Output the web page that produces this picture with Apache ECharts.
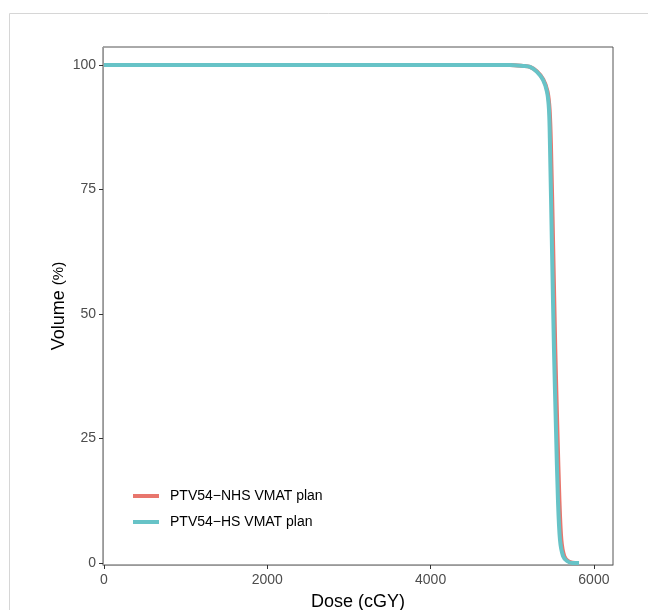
<!DOCTYPE html>
<html>
<head>
<meta charset="utf-8">
<script src="https://cdn.jsdelivr.net/npm/echarts@6/dist/echarts.min.js"></script>
<style>
  html, body { margin: 0; padding: 0; background: #fff; }
  #chart { width: 648px; height: 610px; }
</style>
</head>
<body>
<div id="chart"></div>
<script>
// DVH curves (dose cGy, volume %)
const nhsDose = [0, 4972, 5132, 5217, 5303, 5380, 5432, 5458, 5474, 5502, 5527, 5553, 5578, 5602, 5637, 5684, 5740, 5815];
const nhsVol = [100, 100, 99.8, 99.6, 98.7, 97.1, 94.7, 91, 84, 63, 43, 26.7, 12.6, 4.6, 1.4, 0.4, 0.05, 0];
const hsDose = [0, 4972, 5132, 5217, 5303, 5377, 5426, 5450, 5462, 5487, 5511, 5536, 5560, 5585, 5622, 5671, 5732, 5818];
const hsVol = [100, 100, 99.8, 99.6, 98.6, 97, 94.6, 91, 84, 63, 43, 26.7, 12.6, 4.6, 1.4, 0.4, 0, 0];
const xTicks = [0, 2000, 4000, 6000];
const yTicks = [0, 25, 50, 75, 100];

const pairs = (xs, ys) => xs.map((x, i) => [x, ys[i]]);
const font = 'Liberation Sans, Arial, sans-serif';

const option = {
  animation: false,
  graphic: [{
    type: 'polyline',
    shape: { points: [[9.5, 610], [9.5, 13.5], [648, 13.5]] },
    style: { stroke: '#d6d6d6', lineWidth: 1, fill: null }
  }],
  grid: {
    left: 103, right: 35, top: 47, bottom: 45, outerBoundsMode: 'none', containLabel: false,
    show: true, borderColor: '#555', borderWidth: 1, backgroundColor: '#fff'
  },
  legend: {
    left: 128, top: 484, orient: 'vertical', itemGap: 12,
    itemWidth: 26, itemHeight: 4, icon: 'rect',
    textStyle: { fontSize: 14, color: '#000', fontFamily: font, padding: [0, 0, 0, 6] },
    data: ['PTV54\u2212NHS VMAT plan', 'PTV54\u2212HS VMAT plan']
  },
  xAxis: {
    type: 'value', min: -12, max: 6234,
    name: 'Dose (cGY)', nameLocation: 'middle', nameGap: 28,
    nameTextStyle: { fontSize: 18, color: '#000', fontFamily: font },
    axisLine: { show: true, onZero: false, lineStyle: { color: '#999', width: 1 } },
    axisTick: { show: true, length: 4, customValues: xTicks, lineStyle: { color: '#333' } },
    axisLabel: { customValues: xTicks, fontSize: 14, color: '#4d4d4d', margin: 8, fontFamily: font, formatter: v => String(v) },
    splitLine: { show: false }
  },
  yAxis: {
    type: 'value', min: -0.4, max: 103.6,
    name: '{a|Volume }{b|(%)}', nameLocation: 'middle', nameGap: 35, nameMoveOverlap: false,
    nameTextStyle: {
      fontFamily: font, color: '#000',
      rich: { a: { fontSize: 18, color: '#000', fontFamily: font }, b: { fontSize: 15, color: '#000', fontFamily: font } }
    },
    axisLine: { show: true, onZero: false, lineStyle: { color: '#999', width: 1 } },
    axisTick: { show: true, length: 4, customValues: yTicks, lineStyle: { color: '#333' } },
    axisLabel: { customValues: yTicks, fontSize: 14, color: '#4d4d4d', margin: 7, fontFamily: font, formatter: v => String(v) },
    splitLine: { show: false }
  },
  series: [
    {
      name: 'PTV54\u2212NHS VMAT plan', type: 'line', data: pairs(nhsDose, nhsVol),
      showSymbol: false, smooth: 0.3, color: '#e8766d',
      lineStyle: { width: 4, color: '#e8766d' }
    },
    {
      name: 'PTV54\u2212HS VMAT plan', type: 'line', data: pairs(hsDose, hsVol),
      showSymbol: false, smooth: 0.3, color: '#67c3c7',
      lineStyle: { width: 4, color: '#67c3c7' }
    }
  ]
};

const myChart = echarts.init(document.getElementById('chart'));
myChart.setOption(option);
</script>
</body>
</html>
